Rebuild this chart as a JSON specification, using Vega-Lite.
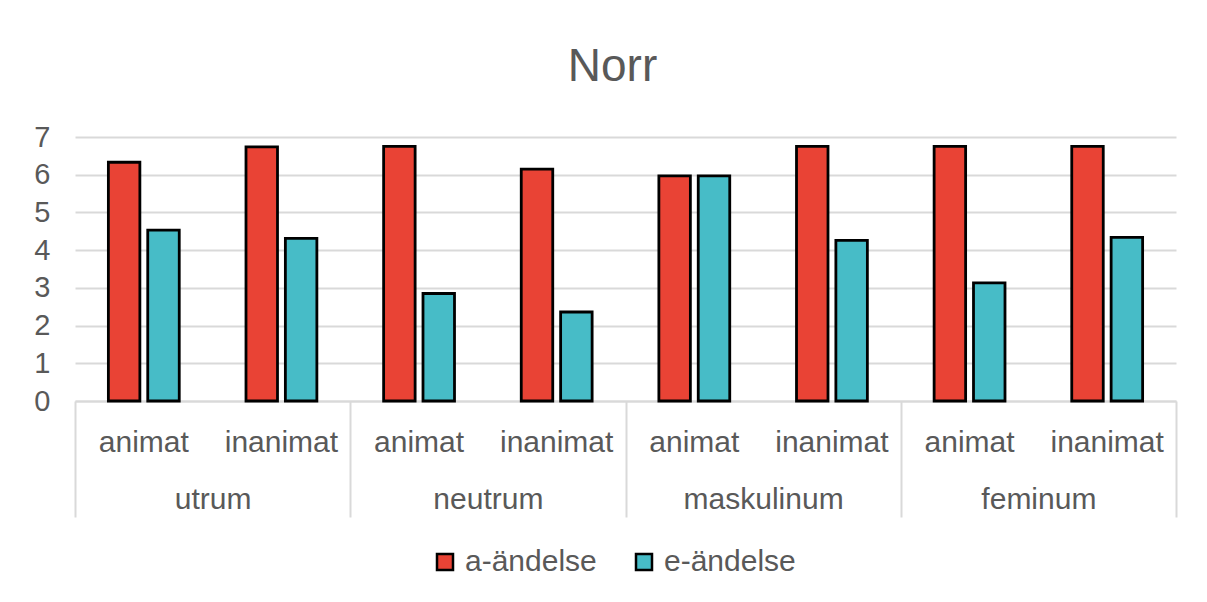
{
  "$schema": "https://vega.github.io/schema/vega-lite/v6.json",
  "width": 1101,
  "height": 264,
  "autosize": "none",
  "padding": {"left": 75, "top": 137, "right": 31, "bottom": 201},
  "background": "white",
  "config": {"font": "Liberation Sans", "view": {"stroke": null}},
  "title": {"text": "Norr", "fontSize": 46, "fontWeight": "normal", "color": "#595959", "anchor": "middle", "dx": -13, "offset": 32},
  "data": {
    "values": [
      {"genus": "utrum", "kat": "utrum|animat", "ändelse": "a-ändelse", "värde": 6.33},
      {"genus": "utrum", "kat": "utrum|animat", "ändelse": "e-ändelse", "värde": 4.53},
      {"genus": "utrum", "kat": "utrum|inanimat", "ändelse": "a-ändelse", "värde": 6.74},
      {"genus": "utrum", "kat": "utrum|inanimat", "ändelse": "e-ändelse", "värde": 4.31},
      {"genus": "neutrum", "kat": "neutrum|animat", "ändelse": "a-ändelse", "värde": 6.75},
      {"genus": "neutrum", "kat": "neutrum|animat", "ändelse": "e-ändelse", "värde": 2.85},
      {"genus": "neutrum", "kat": "neutrum|inanimat", "ändelse": "a-ändelse", "värde": 6.15},
      {"genus": "neutrum", "kat": "neutrum|inanimat", "ändelse": "e-ändelse", "värde": 2.36},
      {"genus": "maskulinum", "kat": "maskulinum|animat", "ändelse": "a-ändelse", "värde": 5.97},
      {"genus": "maskulinum", "kat": "maskulinum|animat", "ändelse": "e-ändelse", "värde": 5.97},
      {"genus": "maskulinum", "kat": "maskulinum|inanimat", "ändelse": "a-ändelse", "värde": 6.75},
      {"genus": "maskulinum", "kat": "maskulinum|inanimat", "ändelse": "e-ändelse", "värde": 4.26},
      {"genus": "feminum", "kat": "feminum|animat", "ändelse": "a-ändelse", "värde": 6.75},
      {"genus": "feminum", "kat": "feminum|animat", "ändelse": "e-ändelse", "värde": 3.13},
      {"genus": "feminum", "kat": "feminum|inanimat", "ändelse": "a-ändelse", "värde": 6.75},
      {"genus": "feminum", "kat": "feminum|inanimat", "ändelse": "e-ändelse", "värde": 4.34}
    ]
  },
  "layer": [
    {
      "mark": {"type": "bar", "stroke": "black", "strokeWidth": 2.8},
      "encoding": {
        "x": {
          "field": "kat", "type": "nominal", "sort": null,
          "scale": {"paddingInner": 0.485, "paddingOuter": 0.2425},
          "axis": {"title": null, "orient": "bottom", "labelExpr": "split(datum.value, '|')[1]", "labelAngle": 0, "ticks": false, "domainColor": "#d9d9d9", "domainWidth": 2, "labelFontSize": 30, "labelColor": "#595959", "labelPadding": 26, "grid": false, "labelOverlap": false}
        },
        "xOffset": {"field": "ändelse", "type": "nominal", "sort": null, "scale": {"paddingInner": 0.2, "paddingOuter": 0}},
        "y": {
          "field": "värde", "type": "quantitative",
          "scale": {"domain": [0, 7], "nice": false},
          "axis": {"title": null, "values": [0, 1, 2, 3, 4, 5, 6, 7], "grid": true, "gridColor": "#d9d9d9", "gridWidth": 2, "domain": false, "ticks": false, "labelFontSize": 29, "labelColor": "#595959", "labelPadding": 25}
        },
        "color": {
          "field": "ändelse", "type": "nominal", "sort": null,
          "scale": {"range": ["#E94335", "#47BCC7"]},
          "legend": {"title": null, "orient": "none", "legendX": 355, "legendY": 410, "direction": "horizontal", "symbolType": "square", "symbolSize": 256, "symbolStrokeColor": "black", "symbolStrokeWidth": 2.5, "labelFontSize": 30, "labelColor": "#595959", "labelOffset": 5, "columnPadding": 32}
        }
      }
    },
    {
      "mark": {"type": "point", "opacity": 0},
      "encoding": {
        "x": {
          "field": "genus", "type": "nominal", "sort": null,
          "scale": {"paddingInner": 0, "paddingOuter": 0},
          "axis": {"title": null, "orient": "bottom", "labelAngle": 0, "domain": false, "grid": false, "ticks": true, "tickBand": "extent", "tickSize": 116, "tickColor": "#d9d9d9", "tickWidth": 2, "labelFontSize": 30, "labelColor": "#595959", "labelPadding": -33}
        }
      }
    }
  ],
  "resolve": {"scale": {"x": "independent"}, "axis": {"x": "independent"}}
}
